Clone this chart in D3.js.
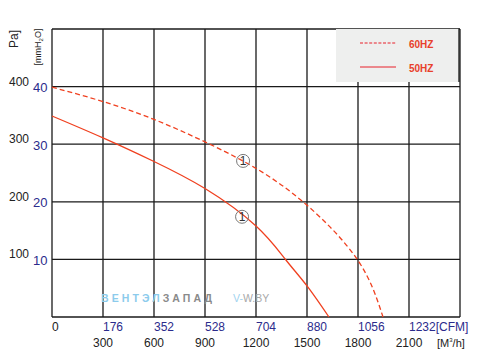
<!DOCTYPE html>
<html>
<head>
<meta charset="utf-8">
<script src="https://cdn.jsdelivr.net/npm/d3@7"></script>
<style>
  body { margin: 0; background: #fff; }
  svg { font-family: "Liberation Sans", Arial, sans-serif; }
</style>
</head>
<body>
<svg id="main" width="488" height="363"></svg>
<script>
// airflow in m3/h, pressure in Pa
const flow60 = [0, 300, 600, 900, 1200, 1500, 1800, 1947];
const pres60 = [399, 374, 343, 304, 258, 194, 98, 0];
const flow50 = [0, 300, 600, 900, 1200, 1376, 1500, 1629];
const pres50 = [349, 311, 270, 223, 158, 99, 54, 0];

const cfmTicks = [0, 176, 352, 528, 704, 880, 1056, 1232];
const m3hTicks = [300, 600, 900, 1200, 1500, 1800, 2100];
const paTicks = [100, 200, 300, 400];
const mmTicks = [10, 20, 30, 40];

// the "1" markers on each curve
const markFlow = [1124, 1118];
const markPres = [271, 174];

const red = '#f0401f';

let svg = d3.select('#main');

let x = d3.scaleLinear().domain([0, 2400]).range([52, 460]);
let xCfm = d3.scaleLinear().domain([0, 1408]).range([52, 460]);
let y = d3.scaleLinear().domain([0, 500]).range([317, 29]);
let yMm = d3.scaleLinear().domain([0, 50]).range([317, 29]);

// grid
let grid = svg.append('g').attr('stroke', '#1a1a1a').attr('stroke-width', 1.3);
grid.selectAll('.v').data(d3.range(0, 2401, 300)).join('line')
  .attr('x1', d => x(d)).attr('x2', d => x(d))
  .attr('y1', y(0)).attr('y2', y(500));
grid.selectAll('.h').data(d3.range(0, 501, 100)).join('line')
  .attr('x1', x(0)).attr('x2', x(2400))
  .attr('y1', d => y(d)).attr('y2', d => y(d));

// watermark
let wm = svg.append('text').attr('y', 302).attr('font-size', 10.5).attr('font-weight', 'bold')
  .attr('letter-spacing', 3.1);
wm.append('tspan').attr('x', 101).attr('fill', '#8ccbec').text('ВЕНТЭЛ');
wm.append('tspan').attr('fill', '#8a8a8a').text('ЗАПАД');
let wm2 = svg.append('text').attr('x', 233).attr('y', 302).attr('font-size', 10.5);
wm2.append('tspan').attr('fill', '#9fd3ef').text('V-');
wm2.append('tspan').attr('fill', '#a8a8a8').text('W.BY');

// curves
let line = (fl, pr) => d3.line().curve(d3.curveNatural)
  .x((d, i) => x(fl[i])).y((d, i) => y(pr[i]))(fl);

svg.append('path').attr('d', line(flow60, pres60))
  .attr('fill', 'none').attr('stroke', red).attr('stroke-width', 1.3)
  .attr('stroke-dasharray', '5,3');
svg.append('path').attr('d', line(flow50, pres50))
  .attr('fill', 'none').attr('stroke', red).attr('stroke-width', 1.3);

// markers
let marks = svg.selectAll('.mark').data(markFlow).join('g')
  .attr('transform', (d, i) => `translate(${x(d)},${y(markPres[i])})`);
marks.append('circle').attr('r', 6.5).attr('fill', 'none').attr('stroke', '#777').attr('stroke-width', 1);
marks.append('text').attr('text-anchor', 'middle').attr('y', 4.5).attr('font-size', 12)
  .attr('fill', '#333').text('1');

// legend
svg.append('rect').attr('x', 336).attr('y', 29).attr('width', 123).attr('height', 53).attr('fill', '#eeefee');
svg.append('line').attr('x1', 459).attr('x2', 459).attr('y1', 28.4).attr('y2', 82)
  .attr('stroke', '#1a1a1a').attr('stroke-width', 1.3);
svg.append('line').attr('x1', 360).attr('x2', 396).attr('y1', 43).attr('y2', 43)
  .attr('stroke', '#e8202a').attr('stroke-width', 1).attr('stroke-dasharray', '3,1.6');
svg.append('line').attr('x1', 360).attr('x2', 396).attr('y1', 67).attr('y2', 67)
  .attr('stroke', '#e8202a').attr('stroke-width', 1);
svg.append('text').attr('x', 409).attr('y', 48).attr('font-size', 10).attr('font-weight', 'bold')
  .attr('fill', '#e8402a').text('60HZ');
svg.append('text').attr('x', 409).attr('y', 72).attr('font-size', 10).attr('font-weight', 'bold')
  .attr('fill', '#e8402a').text('50HZ');

// y labels
svg.selectAll('.pa').data(paTicks).join('text')
  .attr('x', 29).attr('y', d => y(d) - 1).attr('text-anchor', 'end')
  .attr('font-size', 12).attr('fill', '#222').text(d => d);
svg.selectAll('.mm').data(mmTicks).join('text')
  .attr('x', 33).attr('y', d => yMm(d) + 5.5)
  .attr('font-size', 13).attr('fill', '#2b2b8c').text(d => d);

svg.append('text').attr('transform', 'translate(18,39) rotate(-90)').attr('text-anchor', 'middle')
  .attr('font-size', 12).attr('fill', '#222').text('Pa]');
let mmLab = svg.append('text').attr('transform', 'translate(41,47) rotate(-90)').attr('text-anchor', 'middle')
  .attr('font-size', 9).attr('fill', '#222');
mmLab.append('tspan').text('[mmH');
mmLab.append('tspan').attr('font-size', 6).attr('dy', 2).text('2');
mmLab.append('tspan').attr('dy', -2).text('O]');

// x labels
svg.selectAll('.cfm').data(cfmTicks).join('text')
  .attr('x', d => xCfm(d)).attr('y', 331)
  .attr('font-size', 12).attr('fill', d => d === 0 ? '#222' : '#2b2b8c')
  .text((d, i) => i === cfmTicks.length - 1 ? d + '[CFM]' : d);
svg.selectAll('.m3h').data(m3hTicks).join('text')
  .attr('x', d => x(d)).attr('y', 347).attr('text-anchor', 'middle')
  .attr('font-size', 12).attr('fill', '#222').text(d => d);
let unit = svg.append('text').attr('x', 437).attr('y', 347).attr('font-size', 11).attr('fill', '#222');
unit.append('tspan').text('[M');
unit.append('tspan').attr('font-size', 6).attr('dy', -5).text('3');
unit.append('tspan').attr('dy', 5).text('/h]');
</script>
</body>
</html>
